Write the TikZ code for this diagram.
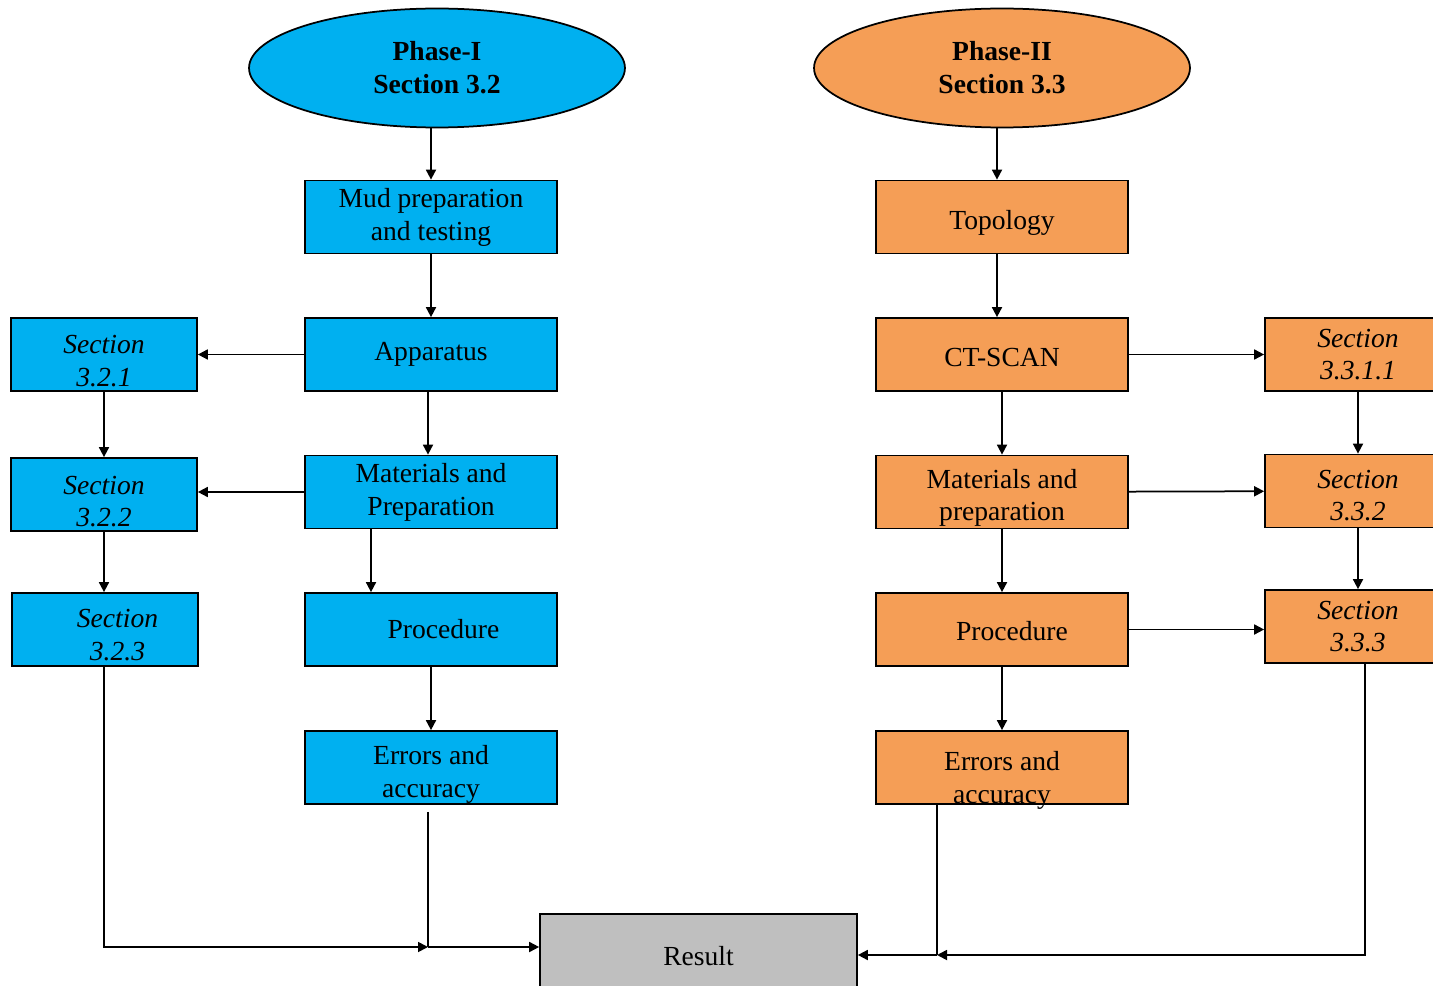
\documentclass[tikz,border=0pt]{standalone}
\usepackage{fontspec}
\setmainfont{Liberation Serif}
\usepackage{xcolor}
\usepackage{tikz}
\usetikzlibrary{positioning}
\usetikzlibrary{arrows.meta,shapes.geometric}
\definecolor{phblue}{RGB}{0,176,240}
\definecolor{phorange}{RGB}{245,158,86}
\definecolor{resgray}{RGB}{191,191,191}
% text a little below the middle of its box
\newcommand{\dn}[2]{\raisebox{-#1}[\height][\depth]{\begin{tabular}{@{}c@{}}#2\end{tabular}}}
\tikzset{
  phase/.style={ellipse,draw=black,line width=0.035cm,minimum width=7.52cm,minimum height=2.38cm,
                inner sep=0pt,align=center,font=\fontsize{15.7pt}{18.7pt}\selectfont\bfseries},
  blk/.style={rectangle,draw=black,line width=0.035cm,minimum width=5.04cm,minimum height=1.46cm,
              inner sep=1pt,align=center,font=\fontsize{15.7pt}{18.7pt}\selectfont},
  sec/.style={blk,minimum width=3.72cm,font=\fontsize{15.7pt}{18.7pt}\selectfont\itshape},
}
\begin{document}
\begin{tikzpicture}[x=0.02cm,y=-0.02cm,->,>={Triangle[length=0.2cm,width=0.2cm]},
                    line width=0.035cm]
\useasboundingbox (0,0) rectangle (1433,986);
% Phase I
\node[phase,fill=phblue] (ph1) at (437,68) {Phase-I\\Section 3.2};
\node[blk,fill=phblue] (mud) at (431,217) {Mud preparation\\and testing};
\node[blk,fill=phblue] (app) at (431,354.5) {Apparatus};
\node[blk,fill=phblue] (mat1) at (431,492) {Materials and\\Preparation};
\node[blk,fill=phblue] (proc1) at (431,629.5) {\hspace{0.5cm}Procedure};
\node[blk,fill=phblue] (err1) at (431,767.5) {\dn{0.14cm}{Errors and\\accuracy}};
\node[sec,fill=phblue] (s321) at (104,354.5) {\dn{0.18cm}{Section\\3.2.1}};
\node[sec,fill=phblue] (s322) at (104,494.5) {\dn{0.19cm}{Section\\3.2.2}};
\node[sec,fill=phblue] (s323) at (105,629.5) {\dn{0.16cm}{\hspace{0.5cm}Section\\\hspace{0.5cm}3.2.3}};
% Phase II
\node[phase,fill=phorange] (ph2) at (1002,68) {Phase-II\\Section 3.3};
\node[blk,fill=phorange] (topo) at (1002,217) {\dn{0.12cm}{Topology}};
\node[blk,fill=phorange] (ct) at (1002,354.5) {\dn{0.1cm}{CT-SCAN}};
\node[blk,fill=phorange] (mat2) at (1002,492) {\dn{0.12cm}{Materials and\\preparation}};
\node[blk,fill=phorange] (proc2) at (1002,629.5) {\dn{0.08cm}{\hspace{0.4cm}Procedure}};
\node[blk,fill=phorange] (err2) at (1002,767.5) {\dn{0.26cm}{Errors and\\accuracy}};
\node[sec,fill=phorange] (s3311) at (1358,354.5) {Section\\3.3.1.1};
\node[sec,fill=phorange] (s332) at (1358,491) {\dn{0.14cm}{Section\\3.3.2}};
\node[sec,fill=phorange] (s333) at (1358,626.5) {Section\\3.3.3};
% Result
\node[blk,fill=resgray,minimum width=6.34cm,minimum height=1.72cm] (res) at (698.5,957) {\raisebox{0.06cm}{Result}};
\coordinate (jl) at (428,947);
\coordinate (jr) at (937,955);

\path (ph1.south -| mud.north) edge (mud.north)
      (mud) edge (app)
      (app) edge (s321)
      ([xshift=-0.06cm]app.south) edge ([xshift=-0.06cm]mat1.north)
      (mat1) edge (mat1 -| s322.east)
      ([xshift=-1.2cm]mat1.south) edge ([xshift=-1.2cm]proc1.north)
      (proc1) edge (err1)
      (s321) edge (s322)
      (s322.south) edge (s322.south |- s323.north);
\draw (s323.south -| s322.south) |- (jl);
\draw[-] ([yshift=-0.14cm]err1.south -| jl) -- (jl);
\draw (jl) -- (jl -| res.west);

\path ([xshift=-0.1cm]topo.north |- ph2.south) edge ([xshift=-0.1cm]topo.north)
      ([xshift=-0.1cm]topo.south) edge ([xshift=-0.1cm]ct.north)
      (ct) edge (mat2)
      (mat2) edge (proc2)
      (proc2) edge (err2)
      (ct) edge (s3311)
      (mat2) edge (s332)
      (proc2.east) edge (proc2.east -| s333.west)
      (s3311) edge (s332)
      (s332) edge (s333);
\draw ([xshift=0.14cm]s333.south) |- (jr);
\draw[-] (err2.south -| jr) -- (jr);
\draw (jr) -- (jr -| res.east);
\end{tikzpicture}
\end{document}
